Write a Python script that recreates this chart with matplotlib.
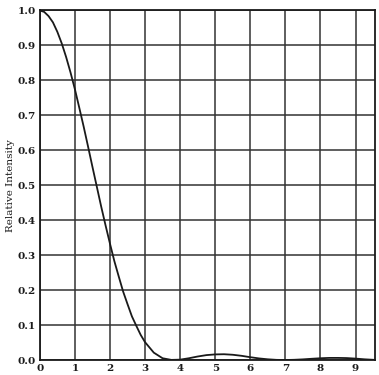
import matplotlib
matplotlib.use("Agg")
import matplotlib.pyplot as plt

# ─── Data ────────────────────────────────────────────────────────────────────

x_vals = [0.0, 0.125, 0.25, 0.375, 0.5, 0.625, 0.75, 0.875, 1.0, 1.125,
          1.25, 1.375, 1.5, 1.625, 1.75, 1.875, 2.0, 2.125, 2.25, 2.375,
          2.5, 2.625, 2.75, 2.875, 3.0, 3.25, 3.5, 3.75, 4.0, 4.25, 4.5,
          4.75, 5.0, 5.25, 5.5, 5.75, 6.0, 6.25, 6.5, 6.75, 7.0, 7.25, 7.5,
          7.75, 8.0, 8.25, 8.5, 8.75, 9.0, 9.25, 9.5]
intensity = [1.0, 0.996, 0.984, 0.966, 0.939, 0.906, 0.867, 0.823, 0.775,
             0.722, 0.668, 0.611, 0.553, 0.496, 0.439, 0.385, 0.333, 0.283,
             0.239, 0.196, 0.160, 0.125, 0.098, 0.072, 0.051, 0.021, 0.005,
             0.0003, 0.001, 0.005, 0.010, 0.014, 0.016, 0.0165, 0.015, 0.012,
             0.008, 0.0045, 0.002, 0.0004, 0.0, 0.0006, 0.0018, 0.0035, 0.005,
             0.006, 0.006, 0.0055, 0.004, 0.002, 0.0006]

x_ticks = list(range(0, 10))
y_ticks = [round(0.1 * i, 1) for i in range(11)]

INK = "#1a1a1a"

fig = plt.figure(figsize=(3.79, 3.75), dpi=100, facecolor="white")
ax = fig.add_axes([0.105, 0.04, 0.884, 0.932])

ax.plot(x_vals, intensity, color=INK, linewidth=1.3, zorder=3)

ax.set_xlim(0, 9.55)
ax.set_ylim(0, 1.0)
ax.set_xticks(x_ticks)
ax.set_yticks(y_ticks)
ax.set_xticklabels([str(t) for t in x_ticks], family="DejaVu Serif",
                   fontsize=7.5, fontweight="bold", color=INK)
ax.set_yticklabels([f"{t:.1f}" for t in y_ticks], family="DejaVu Serif",
                   fontsize=7.5, fontweight="bold", color=INK)
ax.tick_params(length=0, pad=3)
ax.grid(True, color="#333333", linewidth=1.1)
ax.set_axisbelow(True)
for spine in ax.spines.values():
    spine.set_edgecolor(INK)
    spine.set_linewidth(1.3)

ax.set_ylabel("Relative Intensity", family="DejaVu Serif", fontsize=7.5,
              color=INK, labelpad=2)

fig.savefig("out.png", dpi=100, facecolor="white")
